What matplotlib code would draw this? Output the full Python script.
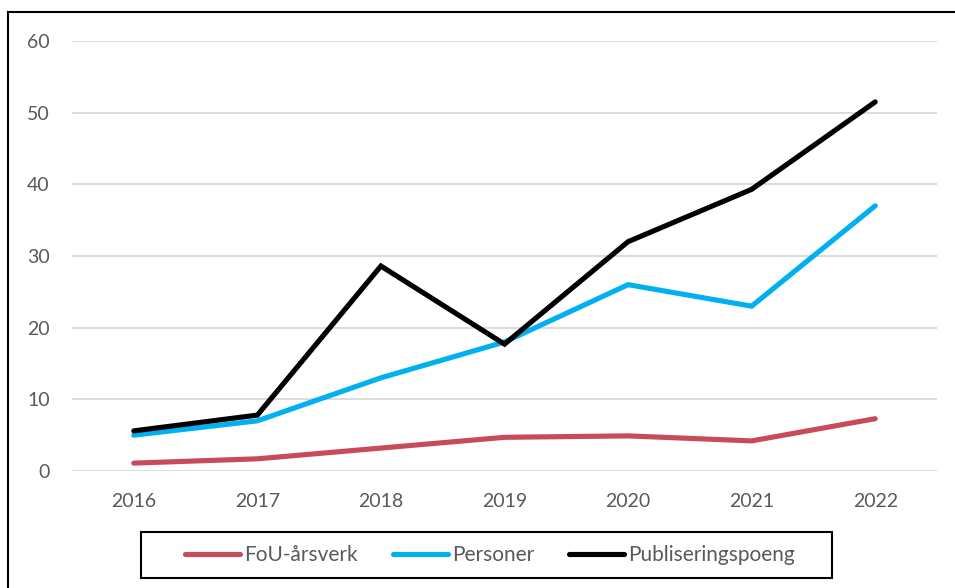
import matplotlib
matplotlib.use("Agg")
import matplotlib.pyplot as plt
from matplotlib.lines import Line2D
from matplotlib.patches import Rectangle

plt.rcParams['font.family'] = ['Lato', 'DejaVu Sans']

years = ["2016", "2017", "2018", "2019", "2020", "2021", "2022"]
fou = [1.1, 1.7, 3.2, 4.7, 4.9, 4.2, 7.3]
personer = [5.0, 7.0, 13.0, 18.0, 26.0, 23.0, 37.0]
publ = [5.6, 7.8, 28.6, 17.7, 32.0, 39.3, 51.5]
yticks = [0, 10, 20, 30, 40, 50, 60]

W, H = 955, 588
fig = plt.figure(figsize=(W / 100, H / 100), dpi=100)
ax = fig.add_axes([72 / W, 1 - 471 / H, (937 - 72) / W, (471 - 41) / H])

x = list(range(len(years)))
lw = 3.7
kw = dict(lw=lw, solid_capstyle="round", solid_joinstyle="miter")
l1, = ax.plot(x, fou, color="#C84B5A", label="FoU-årsverk", **kw)
l2, = ax.plot(x, personer, color="#00B0F0", label="Personer", **kw)
l3, = ax.plot(x, publ, color="#000000", label="Publiseringspoeng", **kw)

ax.set_xlim(-0.5, len(years) - 0.5)
ax.set_ylim(0, 60)
ax.set_yticks(yticks)
ax.set_xticks(x)
ax.set_xticklabels(years)
ax.grid(axis="y", color="#D9D9D9", lw=1.3)
ax.set_axisbelow(True)
for s in ax.spines.values():
    s.set_visible(False)
ax.tick_params(length=0, labelsize=14, colors="#595959")
ax.tick_params(axis="y", pad=16)
ax.tick_params(axis="x", pad=16)

# figure border (left and top)
fig.add_artist(Line2D([8 / W, 8 / W], [0, 1 - 12 / H], transform=fig.transFigure, color="black", lw=1.5))
fig.add_artist(Line2D([8 / W, 1], [1 - 12 / H, 1 - 12 / H], transform=fig.transFigure, color="black", lw=1.5))

# legend frame
fig.add_artist(Rectangle((141 / W, 1 - 578 / H), (832 - 141) / W, (578 - 532) / H,
                         transform=fig.transFigure, fill=False, edgecolor="black", lw=1.5))

fs = 15
leg = fig.legend(handles=[l1, l2, l3], loc="center", bbox_to_anchor=(490 / W, 1 - 555 / H),
                 ncol=3, frameon=False, fontsize=fs,
                 handlelength=2.64, handletextpad=0.2, columnspacing=1.68,
                 borderpad=0.2, borderaxespad=0)
for t in leg.get_texts():
    t.set_color("#595959")

fig.savefig("out.png", dpi=100)
